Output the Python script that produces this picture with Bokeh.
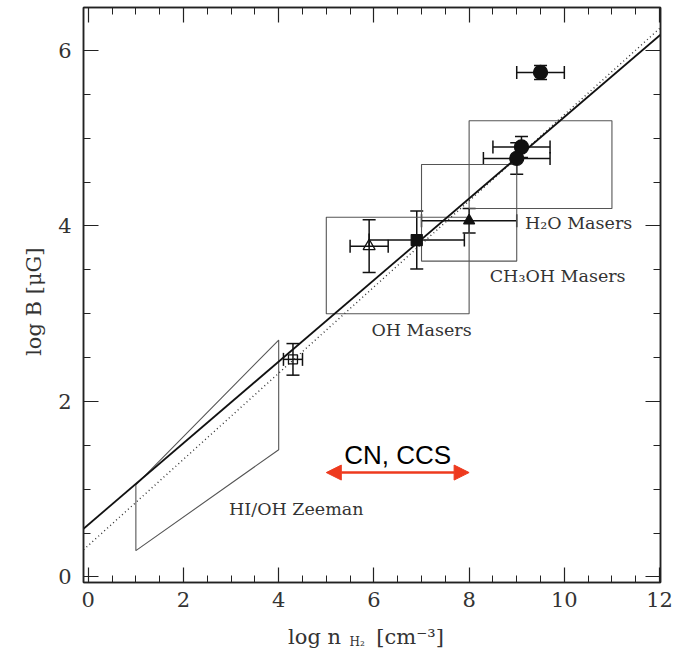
from bokeh.plotting import figure
from bokeh.layouts import column
from bokeh.models import (Range1d, LinearAxis, Whisker, TeeHead, Arrow, NormalHead,
                          Label, ColumnDataSource, FixedTicker, CustomLabelingPolicy)
from bokeh.embed import file_html
from bokeh.resources import INLINE
from bokeh.core.properties import value

# ---------------- data ----------------
x_major = [0, 2, 4, 6, 8, 10, 12]
x_minor = [v * 0.5 for v in range(0, 25)]
y_major = [0, 2, 4, 6]
y_minor = [v * 0.5 for v in range(0, 14)]

# fit lines (end points)
fit_x = [-0.1, 12.02]
fit_solid_y = [0.55, 6.18]
fit_dotted_y = [0.31, 6.26]

# HI/OH Zeeman region (parallelogram)
zeeman_x = [1.0, 1.0, 4.0, 4.0]
zeeman_y = [0.30, 1.05, 2.70, 1.45]

# maser regions
box_left = [5.0, 7.0, 8.0]
box_right = [8.0, 9.0, 11.0]
box_bottom = [3.0, 3.6, 4.2]
box_top = [4.1, 4.7, 5.2]

# measurements
pt_x = [4.3, 5.9, 6.9, 8.0, 9.1, 9.0, 9.5]
pt_y = [2.48, 3.77, 3.84, 4.06, 4.90, 4.77, 5.75]
pt_xerr = [0.2, 0.4, 1.0, 1.0, 0.6, 0.7, 0.5]
pt_yerr = [0.18, 0.30, 0.33, 0.14, 0.12, 0.18, 0.08]
pt_marker = ["square", "triangle", "square", "triangle", "circle", "circle", "circle"]
pt_filled = [False, False, True, True, True, True, True]

# region labels
region_text = ["OH Masers", "CH\u2083OH Masers", "H\u2082O Masers", "HI/OH Zeeman"]
region_lx = [7.0, 9.86, 10.3, 4.37]
region_ly = [2.82, 3.43, 4.03, 0.77]

# CN, CCS range
cn_range = [5.0, 8.0]
cn_y = 1.19
cn_text = "CN, CCS"

# axis titles
y_title = "log  B  [\u03bcG]"
x_title_parts = ["log  n", "H\u2082", "[cm\u207b\u00b3]"]

# ---------------- figure ----------------
AX = "#222222"
TXT = "#333333"
SERIF = "DejaVu Serif"
W = 676
ML, MR = 83, 16

p = figure(width=W, height=620,
           x_range=Range1d(-0.1, 12.02), y_range=Range1d(-0.063, 6.49),
           output_backend="svg", toolbar_location=None,
           min_border_left=ML, min_border_right=MR, min_border_top=7, min_border_bottom=38)
p.xgrid.visible = False
p.ygrid.visible = False
p.outline_line_color = AX
p.outline_line_width = 1.5
p.background_fill_color = "white"
p.border_fill_color = "white"

xt = FixedTicker(ticks=x_major, minor_ticks=x_minor)
yt = FixedTicker(ticks=y_major, minor_ticks=y_minor)

bottom = p.below[0]
left = p.left[0]
top = LinearAxis()
right = LinearAxis()
p.add_layout(top, "above")
p.add_layout(right, "right")

bottom.ticker = xt
top.ticker = xt
left.ticker = yt
right.ticker = yt

for ax in [bottom, left, top, right]:
    ax.major_tick_in = 15
    ax.major_tick_out = 0
    ax.minor_tick_in = 7
    ax.minor_tick_out = 0
    ax.axis_line_color = AX
    ax.axis_line_width = 1.5
    ax.major_tick_line_color = AX
    ax.minor_tick_line_color = AX
    ax.major_tick_line_width = 1.2
    ax.minor_tick_line_width = 1.0
    ax.major_label_text_font = SERIF
    ax.major_label_text_font_size = "21px"
    ax.major_label_text_color = TXT

for ax in [top, right]:
    ax.major_label_policy = CustomLabelingPolicy(code="return []")
    ax.major_label_standoff = 0
    ax.major_label_text_font_size = "1px"

bottom.major_label_standoff = 9
left.major_label_standoff = 12
left.axis_label = y_title
left.axis_label_text_font = SERIF
left.axis_label_text_font_size = "21px"
left.axis_label_text_font_style = "normal"
left.axis_label_text_color = TXT
left.axis_label_standoff = 9

# region outlines
p.quad(left=box_left, right=box_right, bottom=box_bottom, top=box_top,
       fill_alpha=0, line_color="#555555", line_width=1.1)
p.patch(zeeman_x, zeeman_y, fill_alpha=0, line_color="#555555", line_width=1.1)

# fit lines
p.line(fit_x, fit_dotted_y, line_color="#333333", line_width=1.4, line_dash="1 3")
p.line(fit_x, fit_solid_y, line_color="#111111", line_width=1.8)

# measurements with error bars
src = ColumnDataSource(dict(
    x=pt_x, y=pt_y,
    xl=[a - b for a, b in zip(pt_x, pt_xerr)], xu=[a + b for a, b in zip(pt_x, pt_xerr)],
    yl=[a - b for a, b in zip(pt_y, pt_yerr)], yu=[a + b for a, b in zip(pt_y, pt_yerr)],
    marker=pt_marker,
    falpha=[1.0 if f else 0.0 for f in pt_filled],
    size=[(14 if m == "circle" else 11) if f else (9 if m == "square" else 12)
          for m, f in zip(pt_marker, pt_filled)],
))
p.scatter("x", "y", source=src, marker="marker", size="size",
          fill_color="#111111", fill_alpha="falpha", line_color="#111111", line_width=1.3)
for base, lo, up, dim in [("y", "xl", "xu", "width"), ("x", "yl", "yu", "height")]:
    w = Whisker(source=src, base=base, lower=lo, upper=up, dimension=dim,
                line_color="#111111", line_width=1.5,
                lower_head=TeeHead(size=13, line_color="#111111", line_width=1.5),
                upper_head=TeeHead(size=13, line_color="#111111", line_width=1.5))
    p.add_layout(w)

# region labels
for t, lx, ly in zip(region_text, region_lx, region_ly):
    p.add_layout(Label(x=lx, y=ly, text=t, text_font=SERIF, text_font_size="17.5px",
                       text_color=TXT, text_align="center", text_baseline="middle"))

# CN, CCS arrow
p.add_layout(Arrow(x_start=cn_range[0], x_end=cn_range[1], y_start=cn_y, y_end=cn_y,
                   line_color="#ee3a1e", line_width=2.5,
                   start=NormalHead(size=15, fill_color="#ee3a1e", line_color="#ee3a1e"),
                   end=NormalHead(size=15, fill_color="#ee3a1e", line_color="#ee3a1e")))
p.add_layout(Label(x=sum(cn_range) / 2, y=cn_y, y_offset=3, text=cn_text,
                   text_font="Liberation Sans", text_font_size="26px",
                   text_color="black", text_align="center", text_baseline="bottom"))

# ---------------- x axis title strip ----------------
lab = figure(width=W, height=29, x_range=p.x_range, y_range=Range1d(0, 29),
             output_backend="svg", toolbar_location=None,
             min_border_left=ML, min_border_right=MR, min_border_top=0, min_border_bottom=0,
             x_axis_location=None, y_axis_location=None)
lab.xgrid.visible = False
lab.ygrid.visible = False
lab.outline_line_color = None
lab.background_fill_color = "white"
lab.border_fill_color = "white"

lab.text(x=[5.45], y=[13], text=[x_title_parts[0]], text_font=value(SERIF),
         text_font_size="21px", text_color=TXT, text_align="right", text_baseline="alphabetic")
lab.text(x=[5.49], y=[8], text=[x_title_parts[1]], text_font=value(SERIF),
         text_font_size="12px", text_color=TXT, text_align="left", text_baseline="alphabetic")
lab.text(x=[6.05], y=[13], text=[x_title_parts[2]], text_font=value(SERIF),
         text_font_size="21px", text_color=TXT, text_align="left", text_baseline="alphabetic")

layout = column(p, lab, spacing=0)
open("out.html", "w").write(file_html(layout, INLINE))
